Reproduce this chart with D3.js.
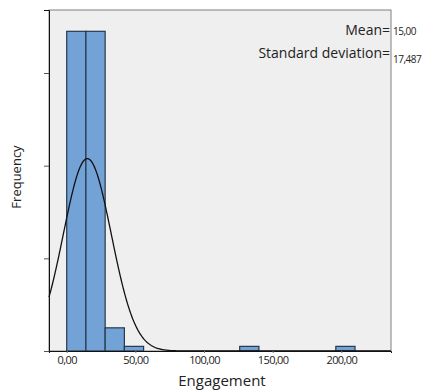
<!DOCTYPE html>
<html>
<head>
<meta charset="utf-8">
<script src="https://cdn.jsdelivr.net/npm/d3@7"></script>
<style>
  body { margin: 0; background: #fff; }
  text { font-family: "Open Sans", sans-serif; }
</style>
</head>
<body>
<div id="chart"></div>
<script>
// histogram bins (lower edge) and counts
const binStarts = [0, 14, 28, 42, 126, 196];
const binCounts = [69, 69, 5, 1, 1, 1];
const binWidth = 14;
const xTicks = [0, 50, 100, 150, 200];
const yTicks = [0, 20, 40, 60];
const mean = 15.0;
const stdDev = 17.487;
// sample size implied by the height of the fitted normal curve
const curveN = 130;

const width = 427, height = 390;
const margin = { top: 10, right: 36, bottom: 39, left: 49 };
const innerW = width - margin.left - margin.right;
const innerH = height - margin.top - margin.bottom;

const locale = d3.formatLocale({ decimal: ",", thousands: ".", grouping: [3], currency: ["", ""] });
const fmt2 = locale.format(".2f");
const fmt3 = locale.format(".3f");

const svg = d3.select("#chart").append("svg")
    .attr("width", width)
    .attr("height", height);

const g = svg.append("g")
    .attr("transform", "translate(" + margin.left + "," + margin.top + ")");

// scales
const x = d3.scaleLinear()
    .domain([-12.9, 236.2])
    .range([0, innerW]);
const y = d3.scaleLinear()
    .domain([0, 73.6])
    .range([innerH, 0]);

// plot background
g.append("rect")
    .attr("width", innerW)
    .attr("height", innerH)
    .attr("fill", "#efefef")
    .attr("stroke", "#808080")
    .attr("stroke-width", 1);

// bars
g.selectAll(".bar")
    .data(binStarts.map((s, i) => ({ start: s, count: binCounts[i] })))
    .enter().append("rect")
    .attr("class", "bar")
    .attr("x", (d) => x(d.start))
    .attr("width", (d) => x(d.start + binWidth) - x(d.start))
    .attr("y", (d) => y(d.count))
    .attr("height", (d) => innerH - y(d.count))
    .attr("fill", "#73a3d6")
    .attr("stroke", "#26394c")
    .attr("stroke-width", 1.2);

// normal curve
const pdf = (v) => Math.exp(-0.5 * Math.pow((v - mean) / stdDev, 2)) / (stdDev * Math.sqrt(2 * Math.PI));
const curveX = d3.range(x.domain()[0], x.domain()[1], 0.5);
g.append("path")
    .datum(curveX)
    .attr("fill", "none")
    .attr("stroke", "#111")
    .attr("stroke-width", 1.3)
    .attr("d", d3.line()
        .x((d) => x(d))
        .y((d) => y(curveN * binWidth * pdf(d))));

// axes
const yAxis = g.append("g")
    .call(d3.axisLeft(y).tickValues(yTicks).tickSize(5).tickFormat(""));
yAxis.select(".domain").attr("stroke", "#111");
yAxis.selectAll(".tick line").attr("stroke", "#555");

const xAxis = g.append("g")
    .attr("transform", "translate(0," + innerH + ")")
    .call(d3.axisBottom(x).tickValues(xTicks).tickSize(2).tickPadding(3).tickFormat(fmt2));
xAxis.select(".domain").attr("stroke", "#111");
xAxis.selectAll(".tick line").attr("stroke", "#777");
xAxis.selectAll(".tick text")
    .attr("font-family", "'Open Sans', sans-serif")
    .attr("font-size", 11)
    .attr("letter-spacing", -0.6)
    .attr("fill", "#222");

// axis titles
svg.append("text")
    .attr("x", 222)
    .attr("y", 386)
    .attr("text-anchor", "middle")
    .attr("font-size", 15)
    .attr("fill", "#222")
    .text("Engagement");

svg.append("text")
    .attr("transform", "translate(21,177) rotate(-90)")
    .attr("text-anchor", "middle")
    .attr("font-size", 13)
    .attr("fill", "#222")
    .text("Frequency");

// stats
const right = margin.left + innerW;
svg.append("text")
    .attr("x", right - 1)
    .attr("y", 35)
    .attr("text-anchor", "end")
    .attr("font-size", 14)
    .attr("fill", "#222")
    .text("Mean=");
svg.append("text")
    .attr("x", right + 2)
    .attr("y", 35)
    .attr("font-size", 10)
    .attr("letter-spacing", -0.5)
    .attr("fill", "#222")
    .text(fmt2(mean));
svg.append("text")
    .attr("x", right - 1)
    .attr("y", 58)
    .attr("text-anchor", "end")
    .attr("font-size", 14)
    .attr("fill", "#222")
    .text("Standard deviation=");
svg.append("text")
    .attr("x", right + 2)
    .attr("y", 63)
    .attr("font-size", 10)
    .attr("letter-spacing", -0.5)
    .attr("fill", "#222")
    .text(fmt3(stdDev));
</script>
</body>
</html>
